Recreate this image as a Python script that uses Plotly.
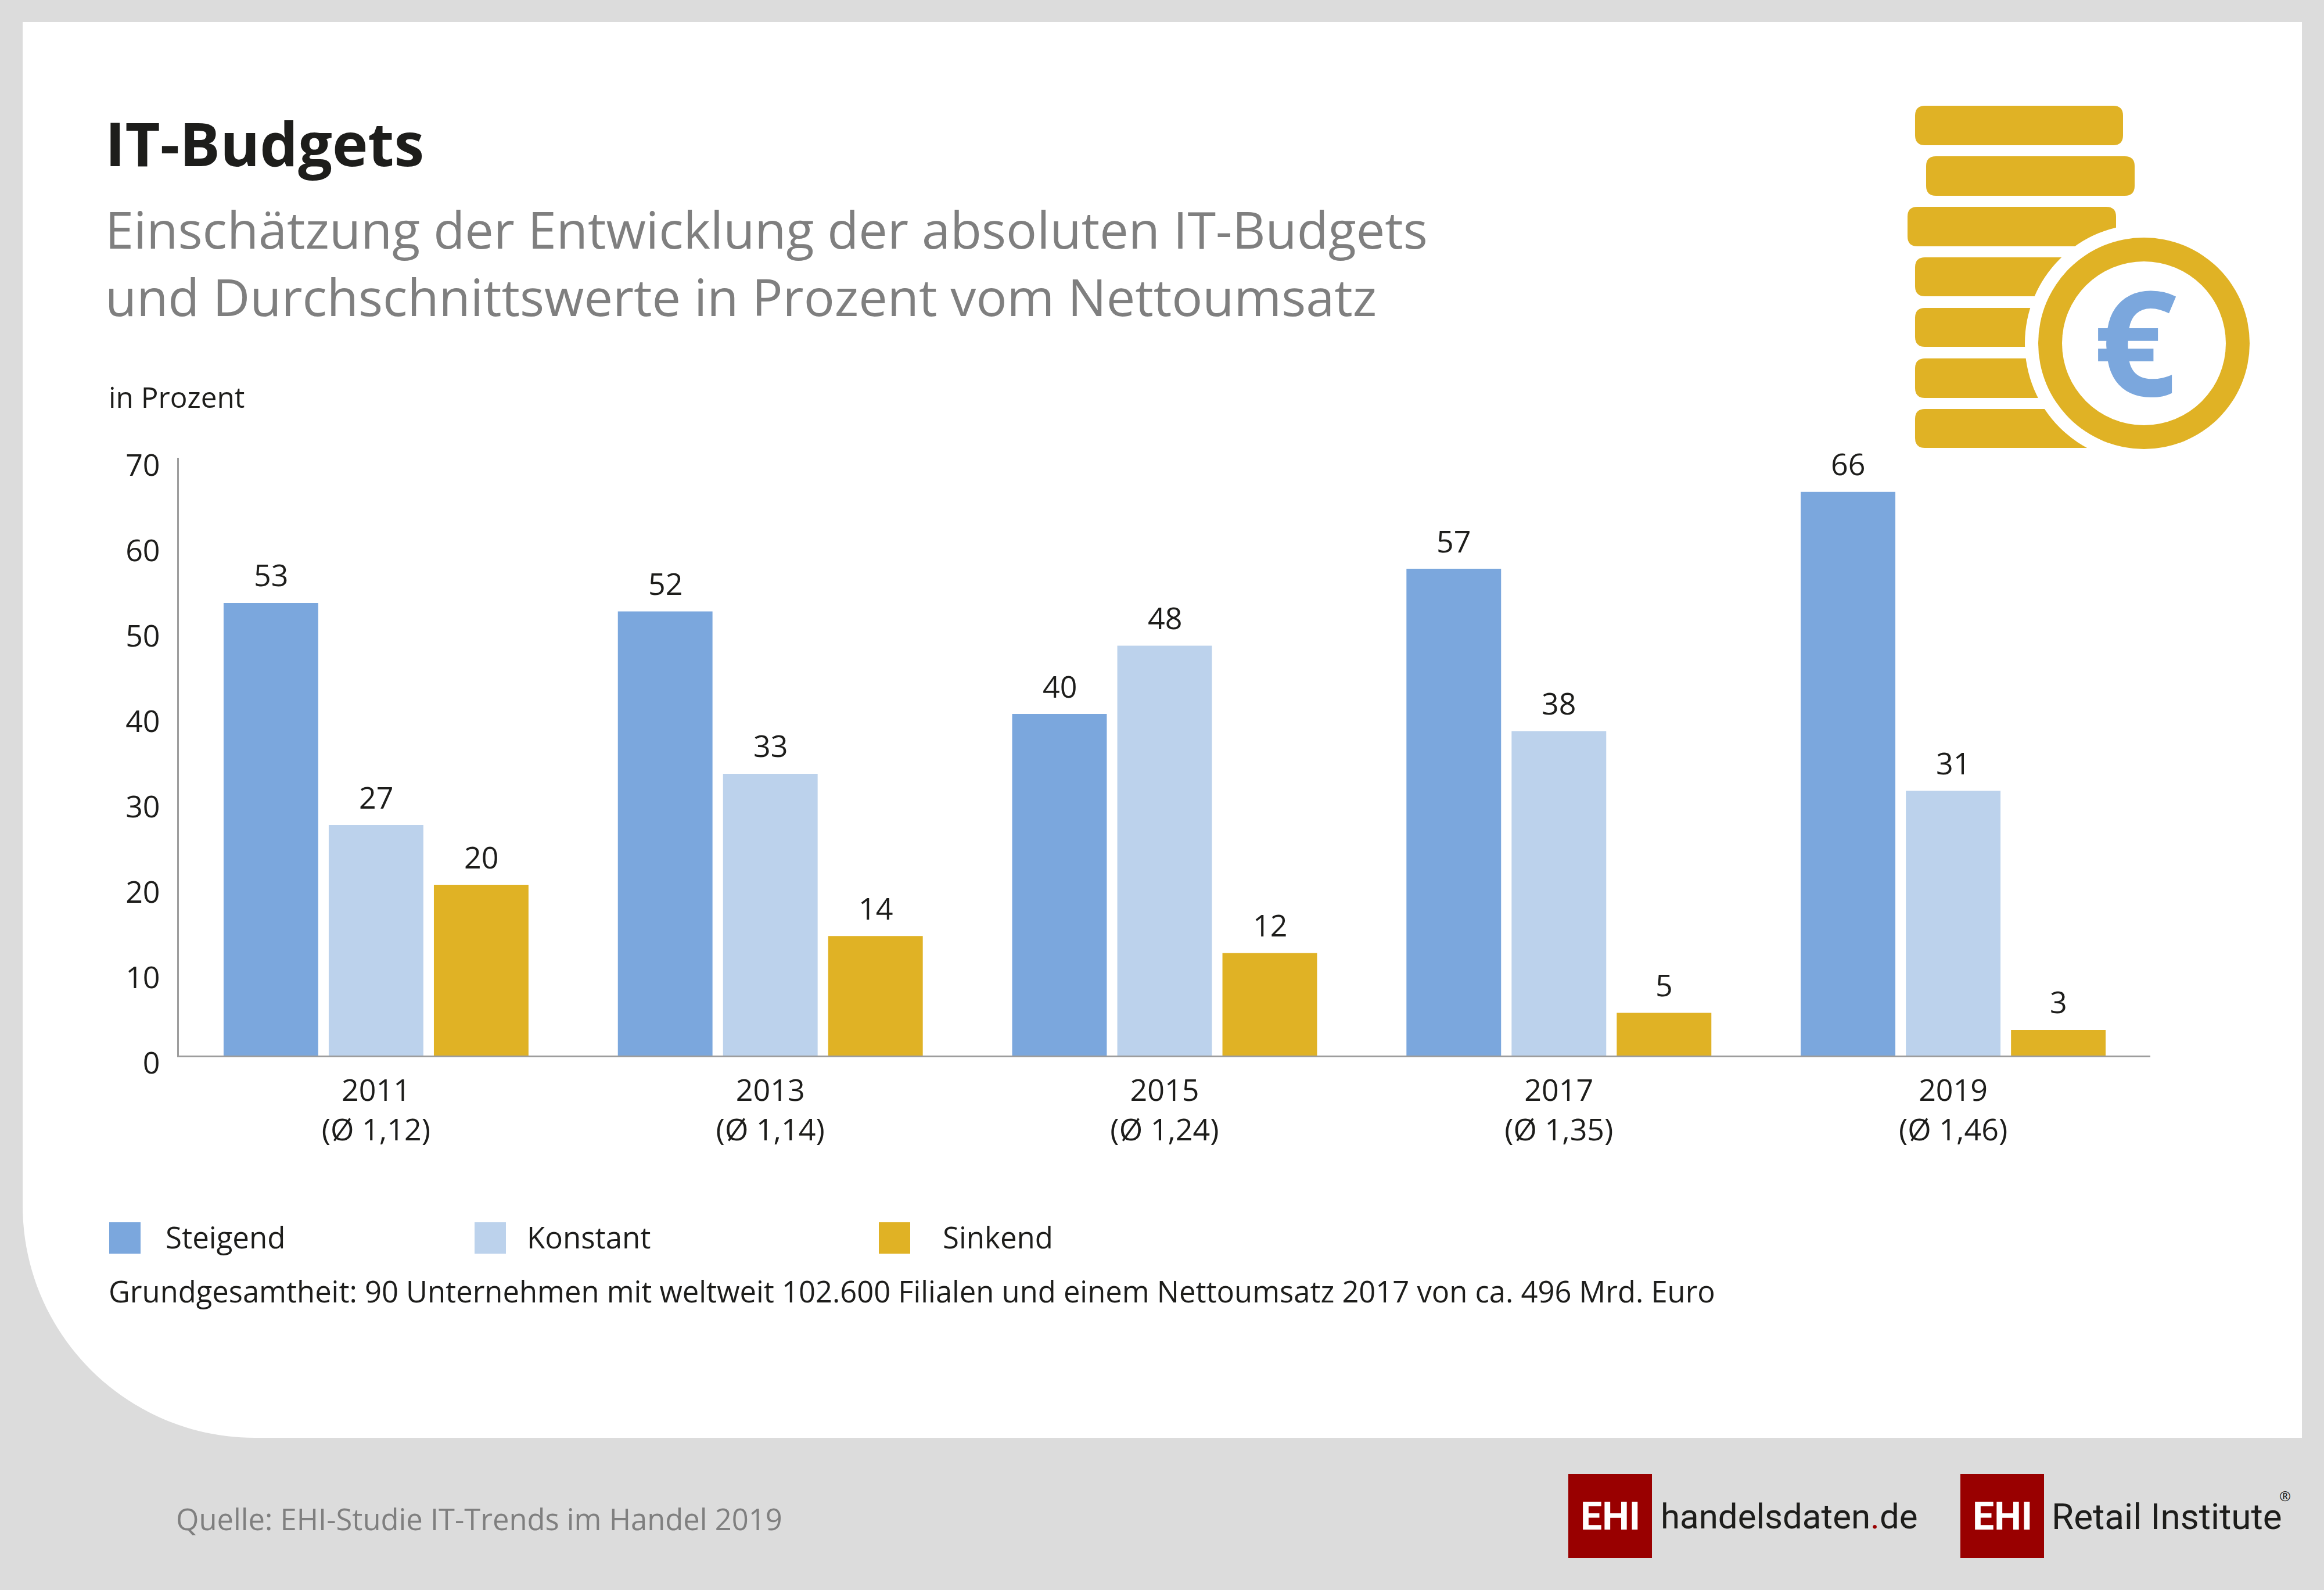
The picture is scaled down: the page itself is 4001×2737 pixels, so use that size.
import plotly.graph_objects as go

W, H = 4001, 2737
years = ["2011", "2013", "2015", "2017", "2019"]
year_labels = ["2011<br>(Ø 1,12)", "2013<br>(Ø 1,14)", "2015<br>(Ø 1,24)", "2017<br>(Ø 1,35)", "2019<br>(Ø 1,46)"]
steigend = [53, 52, 40, 57, 66]
konstant = [27, 33, 48, 38, 31]
sinkend = [20, 14, 12, 5, 3]
y_ticks = [0, 10, 20, 30, 40, 50, 60, 70]
series_names = ["Steigend", "Konstant", "Sinkend"]
series_values = [steigend, konstant, sinkend]
colors = ["#7BA7DD", "#BCD2EC", "#E0B225"]

FONT = "Open Sans"
LOGO = "Roboto"
INK = "#1D1D1B"
GREY = "#7F7F7F"
GOLD = colors[2]
RED = "#990000"

def X(p): return p / W
def Y(p): return 1 - p / H

def path(d):
    out = []
    for tok in d:
        if isinstance(tok, str):
            out.append(tok)
        else:
            out.append(f"{X(tok[0]):.5f},{Y(tok[1]):.5f}")
    return " ".join(out)

def rrect(x0, y0, x1, y1, r, color):
    d = ["M", (x0 + r, y0), "L", (x1 - r, y0), "Q", (x1, y0), (x1, y0 + r), "L", (x1, y1 - r),
         "Q", (x1, y1), (x1 - r, y1), "L", (x0 + r, y1), "Q", (x0, y1), (x0, y1 - r), "L", (x0, y0 + r),
         "Q", (x0, y0), (x0 + r, y0), "Z"]
    return dict(type="path", xref="paper", yref="paper", path=path(d), fillcolor=color, line_width=0, layer="below")

def rect(x0, y0, x1, y1, color):
    return dict(type="rect", xref="paper", yref="paper", x0=X(x0), x1=X(x1), y0=Y(y0), y1=Y(y1),
                fillcolor=color, line_width=0, layer="below")

def circle(cx, cy, r, color):
    return dict(type="circle", xref="paper", yref="paper", x0=X(cx - r), x1=X(cx + r), y0=Y(cy + r), y1=Y(cy - r),
                fillcolor=color, line_width=0, layer="below")

def label(x, y, text, size, color=INK, anchor="left", family=FONT, bold=False):
    t = f"<b>{text}</b>" if bold else text
    return dict(xref="paper", yref="paper", x=X(x), y=Y(y), text=t, showarrow=False, xanchor=anchor, yanchor="middle",
                font=dict(family=family, size=size, color=color), align="left")

fig = go.Figure()
for name, vals, col in zip(series_names, series_values, colors):
    fig.add_trace(go.Bar(x=years, y=vals, name=name, marker=dict(color=col, line_width=0), showlegend=False))
# carries the tick labels, which sit slightly below their value positions in the reference
fig.add_trace(go.Scatter(x=years, y=[None] * len(years), yaxis="y2", showlegend=False, hoverinfo="skip"))

shapes = [
    dict(type="path", xref="paper", yref="paper", layer="below", fillcolor="#FFFFFF", line_width=0,
         path=path(["M", (39, 38), "L", (3963, 38), "L", (3963, 2475), "L", (439, 2475),
                    "C", (218, 2475), (39, 2296), (39, 2075), "Z"])),
]
for (x0, x1, y0, y1) in [(3297, 3655, 182, 250), (3316, 3675, 269, 337), (3284, 3643, 356, 424),
                         (3297, 3655, 443, 510), (3297, 3655, 530, 597), (3297, 3655, 617, 685), (3297, 3655, 704, 771)]:
    shapes.append(rrect(x0, y0, x1, y1, 17, GOLD))
shapes += [circle(3691, 591, 205, "#FFFFFF"), circle(3691, 591, 182, GOLD), circle(3691, 591, 141, "#FFFFFF")]
for (x0, col) in zip([188, 817, 1513], colors):
    shapes.append(rect(x0, 2104, x0 + 54, 2158, col))
shapes += [rect(2700, 2537, 2844, 2682, RED), rect(3375, 2537, 3519, 2682, RED)]

ann = [
    label(179, 246, "IT-Budgets", 104, bold=True),
    label(179, 394, "Einschätzung der Entwicklung der absoluten IT-Budgets", 88.3, color=GREY),
    label(179, 510, "und Durchschnittswerte in Prozent vom Nettoumsatz", 88.3, color=GREY),
    label(185, 683, "in Prozent", 49.5),
    label(283, 2129, series_names[0], 51),
    label(905, 2129, series_names[1], 51),
    label(1621, 2129, series_names[2], 51),
    label(185, 2222, "Grundgesamtheit: 90 Unternehmen mit weltweit 102.600 Filialen und einem Nettoumsatz 2017 von ca. 496 Mrd. Euro", 50.7),
    label(301, 2614, "Quelle: EHI-Studie IT-Trends im Handel 2019", 50.7, color=GREY),
    label(2772, 2610, "EHI", 66, color="#FFFFFF", anchor="center", family=LOGO, bold=True),
    label(3447, 2610, "EHI", 66, color="#FFFFFF", anchor="center", family=LOGO, bold=True),
    label(2857, 2610, f"handelsdaten<span style='color:{RED}'>.</span>de", 60, family=LOGO),
    label(3530, 2610, "Retail Institute", 62, family=LOGO),
    label(3934, 2574, "®", 24, anchor="center"),
    label(3676, 584, "€", 252, color=colors[0], anchor="center", bold=True),
]
for i, vals in enumerate(series_values):
    for j, v in enumerate(vals):
        ann.append(dict(x=j, y=v, xref="x", yref="y", text=str(v), showarrow=False, xshift=(i - 1) * 181,
                        yshift=49, yanchor="middle", xanchor="center", font=dict(family=FONT, size=52, color=INK)))

dom_x = [X(308), X(3702)]
fig.update_layout(
    width=W, height=H, margin=dict(l=0, r=0, t=0, b=0), autosize=False,
    paper_bgcolor="#DCDCDC", plot_bgcolor="rgba(0,0,0,0)",
    barmode="group", bargap=0.2, bargroupgap=0.1,
    font=dict(family=FONT, size=52, color=INK), showlegend=False,
    shapes=shapes, annotations=ann,
    xaxis=dict(type="category", domain=dom_x, categoryorder="array", categoryarray=years, range=[-0.5, 4.5],
               tickmode="array", tickvals=years, ticktext=year_labels, automargin=False,
               showline=True, linecolor="#9D9D9D", linewidth=3, showgrid=False, zeroline=False,
               ticks="outside", ticklen=13, tickcolor="rgba(0,0,0,0)", tickfont=dict(size=52), anchor="y"),
    yaxis=dict(domain=[Y(1817), Y(788)], range=[0, 70], showline=True, linecolor="#9D9D9D", linewidth=3,
               showgrid=False, zeroline=False, showticklabels=False, ticks="", anchor="x", automargin=False),
    yaxis2=dict(domain=[Y(1830), Y(801)], range=[0, 70], tickmode="array", tickvals=y_ticks, automargin=False,
                showline=False, showgrid=False, zeroline=False, ticks="outside", ticklen=21,
                tickcolor="rgba(0,0,0,0)", tickfont=dict(size=52), anchor="x"),
)
fig.write_html("out.html", config={"displayModeBar": False},
               post_script="document.body.style.margin='0';document.documentElement.style.overflow='hidden';")
